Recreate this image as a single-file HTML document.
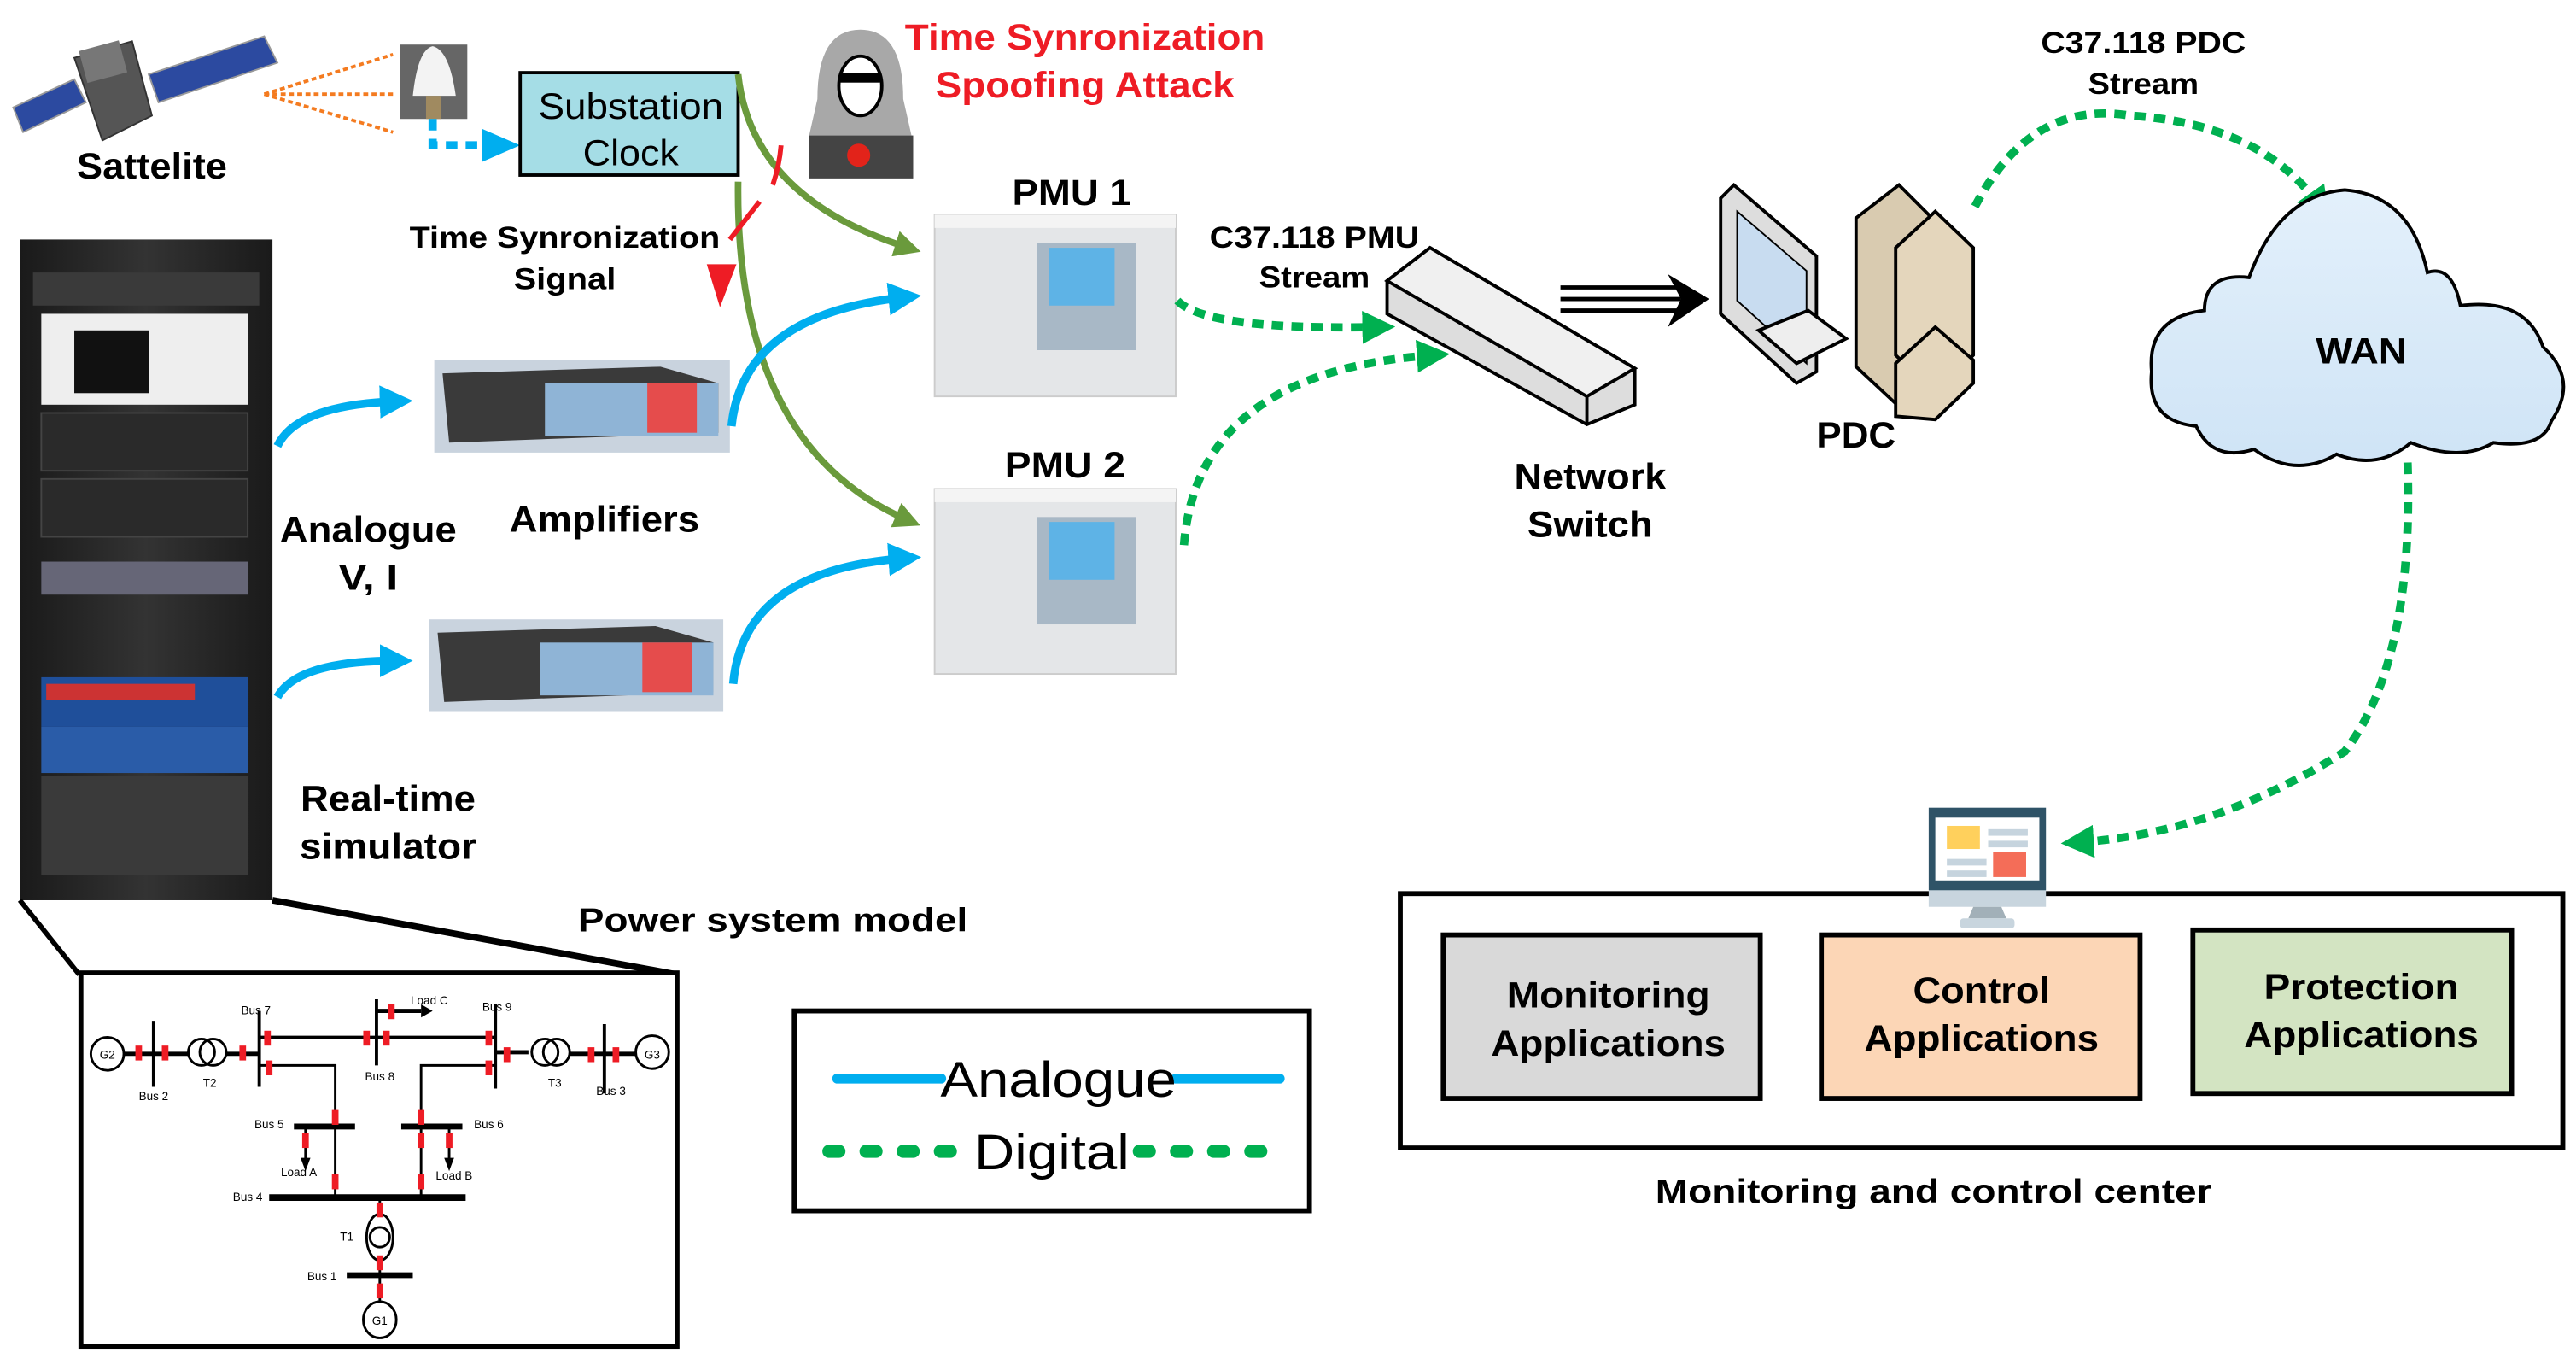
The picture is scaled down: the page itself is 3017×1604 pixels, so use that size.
<!DOCTYPE html>
<html><head><meta charset="utf-8"><style>
html,body{margin:0;padding:0;background:#fff;}
svg{display:block}
text{font-family:"Liberation Sans",Arial,sans-serif;}
.b{font-weight:bold;fill:#000}
</style></head><body>
<svg width="3017" height="1604" viewBox="0 0 1560 829.4" preserveAspectRatio="none" xmlns="http://www.w3.org/2000/svg">
<defs>
<marker id="ab" markerWidth="4" markerHeight="4" refX="2" refY="2" orient="auto" markerUnits="strokeWidth"><path d="M0,0 L4,2 L0,4 Z" fill="#00aeef"/></marker>
<marker id="ag" markerWidth="4" markerHeight="4" refX="2" refY="2" orient="auto" markerUnits="strokeWidth"><path d="M0,0 L4,2 L0,4 Z" fill="#00b050"/></marker>
<marker id="agr" markerWidth="4" markerHeight="4" refX="2" refY="2" orient="auto" markerUnits="strokeWidth"><path d="M0,0 L4,2 L0,4 Z" fill="#6a9a3c"/></marker>
<linearGradient id="cl" x1="0" y1="0" x2="0" y2="1"><stop offset="0" stop-color="#e3f0fb"/><stop offset="1" stop-color="#cfe4f6"/></linearGradient>
<linearGradient id="rk" x1="0" y1="0" x2="1" y2="0"><stop offset="0" stop-color="#1a1a1a"/><stop offset=".5" stop-color="#333"/><stop offset="1" stop-color="#1a1a1a"/></linearGradient>
</defs>

<!-- Satellite -->
<g>
<polygon points="8,65 45,48 52,62 14,80" fill="#2c4aa0" stroke="#999" stroke-width="1"/>
<polygon points="90,45 160,22 168,38 96,62" fill="#2c4aa0" stroke="#999" stroke-width="1"/>
<polygon points="45,35 80,25 92,70 62,85" fill="#555" stroke="#333"/>
<rect x="50" y="28" width="25" height="20" fill="#777" transform="rotate(-15 60 38)"/>
</g>
<text x="92" y="108" class="b" font-size="22" text-anchor="middle" textLength="91" lengthAdjust="spacingAndGlyphs">Sattelite</text>
<g stroke="#f47b20" stroke-width="2" stroke-dasharray="3,2" fill="none">
<line x1="160" y1="57" x2="238" y2="33"/><line x1="160" y1="57" x2="238" y2="57"/><line x1="160" y1="57" x2="238" y2="80"/>
</g>
<rect x="242" y="27" width="41" height="45" fill="#666"/>
<path d="M250,58 Q253,30 262,28 Q272,30 276,58 Z" fill="#f3f3f3"/>
<rect x="258" y="58" width="9" height="14" fill="#a08a60"/>
<path d="M262,72 L262,88 L295,88" stroke="#00aeef" stroke-width="5" stroke-dasharray="7,5" fill="none"/>
<polygon points="292,78 315,88 292,98" fill="#00aeef"/>

<rect x="315" y="44" width="132" height="62" fill="#a5dde6" stroke="#000" stroke-width="2"/>
<text x="382" y="72" font-size="22" text-anchor="middle" textLength="112" lengthAdjust="spacingAndGlyphs">Substation</text>
<text x="382" y="100" font-size="22" text-anchor="middle" textLength="58" lengthAdjust="spacingAndGlyphs">Clock</text>

<!-- hacker -->
<path d="M495,60 Q495,18 521,18 Q547,18 547,60 L552,82 L490,82 Z" fill="#a8a8a8"/>
<ellipse cx="521" cy="52" rx="13" ry="18" fill="#fff" stroke="#000" stroke-width="2"/>
<rect x="509" y="44" width="24" height="6" fill="#000"/>
<rect x="490" y="82" width="63" height="26" fill="#444"/>
<circle cx="520" cy="94" r="7" fill="#e2231a"/>
<text x="657" y="30" font-size="22" font-weight="bold" fill="#ee1c25" text-anchor="middle" textLength="218" lengthAdjust="spacingAndGlyphs">Time Synronization</text>
<text x="657" y="59" font-size="22" font-weight="bold" fill="#ee1c25" text-anchor="middle" textLength="181" lengthAdjust="spacingAndGlyphs">Spoofing Attack</text>

<path d="M447,45 Q455,120 550,150" stroke="#6a9a3c" stroke-width="4" fill="none" marker-end="url(#agr)"/>
<path d="M447,110 Q445,270 550,315" stroke="#6a9a3c" stroke-width="4" fill="none" marker-end="url(#agr)"/>
<path d="M473,88 Q472,100 468,112" stroke="#ee1c25" stroke-width="3" fill="none"/>
<line x1="442" y1="145" x2="460" y2="122" stroke="#ee1c25" stroke-width="3"/>
<polygon points="428,160 446,160 436,186" fill="#ee1c25"/>
<text x="342" y="150" class="b" font-size="18" text-anchor="middle" textLength="188" lengthAdjust="spacingAndGlyphs">Time Synronization</text>
<text x="342" y="175" class="b" font-size="18" text-anchor="middle" textLength="62" lengthAdjust="spacingAndGlyphs">Signal</text>

<!-- Rack -->
<rect x="12" y="145" width="153" height="400" fill="url(#rk)"/>
<rect x="20" y="165" width="137" height="20" fill="#3a3a3a"/>
<rect x="25" y="190" width="125" height="55" fill="#eee"/>
<rect x="45" y="200" width="45" height="38" fill="#111"/>
<rect x="25" y="250" width="125" height="35" fill="#2a2a2a" stroke="#444"/>
<rect x="25" y="290" width="125" height="35" fill="#2a2a2a" stroke="#444"/>
<rect x="25" y="340" width="125" height="20" fill="#667"/>
<rect x="25" y="410" width="125" height="30" fill="#1f4f9a"/>
<rect x="28" y="414" width="90" height="10" fill="#c33"/>
<rect x="25" y="440" width="125" height="28" fill="#2a5ca8"/>
<rect x="25" y="470" width="125" height="60" fill="#3a3a3a"/>

<!-- Amplifiers -->
<rect x="263" y="218" width="179" height="56" fill="#c9d3de"/>
<polygon points="268,226 400,222 435,232 435,262 272,268" fill="#3a3a3a"/>
<rect x="330" y="232" width="105" height="32" fill="#8fb4d6"/>
<rect x="392" y="232" width="30" height="30" fill="#e54c4c"/>
<rect x="260" y="375" width="178" height="56" fill="#c9d3de"/>
<polygon points="265,383 397,379 432,389 432,419 269,425" fill="#3a3a3a"/>
<rect x="327" y="389" width="105" height="32" fill="#8fb4d6"/>
<rect x="389" y="389" width="30" height="30" fill="#e54c4c"/>

<g stroke="#00aeef" stroke-width="5" fill="none">
<path d="M168,270 Q180,245 240,243" marker-end="url(#ab)"/>
<path d="M168,422 Q180,400 240,400" marker-end="url(#ab)"/>
<path d="M443,258 Q450,190 548,180" marker-end="url(#ab)"/>
<path d="M444,414 Q450,345 548,338" marker-end="url(#ab)"/>
</g>
<text x="223" y="328" class="b" font-size="22" text-anchor="middle" textLength="107" lengthAdjust="spacingAndGlyphs">Analogue</text>
<text x="223" y="357" class="b" font-size="22" text-anchor="middle" textLength="36" lengthAdjust="spacingAndGlyphs">V, I</text>
<text x="366" y="322" class="b" font-size="22" text-anchor="middle" textLength="115" lengthAdjust="spacingAndGlyphs">Amplifiers</text>
<text x="235" y="491" class="b" font-size="22" text-anchor="middle" textLength="106" lengthAdjust="spacingAndGlyphs">Real-time</text>
<text x="235" y="520" class="b" font-size="22" text-anchor="middle" textLength="107" lengthAdjust="spacingAndGlyphs">simulator</text>

<!-- PMUs -->
<text x="649" y="124" class="b" font-size="22" text-anchor="middle" textLength="72" lengthAdjust="spacingAndGlyphs">PMU 1</text>
<rect x="566" y="130" width="146" height="110" fill="#e4e6e8" stroke="#ccc"/>
<rect x="566" y="130" width="146" height="8" fill="#f4f4f4"/>
<rect x="628" y="147" width="60" height="65" fill="#a8b8c6"/>
<rect x="635" y="150" width="40" height="35" fill="#5eb3e6"/>
<text x="645" y="289" class="b" font-size="22" text-anchor="middle" textLength="73" lengthAdjust="spacingAndGlyphs">PMU 2</text>
<rect x="566" y="296" width="146" height="112" fill="#e4e6e8" stroke="#ccc"/>
<rect x="566" y="296" width="146" height="8" fill="#f4f4f4"/>
<rect x="628" y="313" width="60" height="65" fill="#a8b8c6"/>
<rect x="635" y="316" width="40" height="35" fill="#5eb3e6"/>

<text x="796" y="150" class="b" font-size="18" text-anchor="middle" textLength="127" lengthAdjust="spacingAndGlyphs">C37.118 PMU</text>
<text x="796" y="174" class="b" font-size="18" text-anchor="middle" textLength="67" lengthAdjust="spacingAndGlyphs">Stream</text>
<g stroke="#00b050" stroke-width="5" stroke-dasharray="7,5" fill="none">
<path d="M713,182 Q730,200 835,198" marker-end="url(#ag)"/>
<path d="M717,330 Q725,225 868,215" marker-end="url(#ag)"/>
</g>

<!-- switch -->
<polygon points="840,170 866,150 990,223 990,245 961,257 840,190" fill="#ddd" stroke="#000" stroke-width="2"/>
<polygon points="840,170 866,150 990,223 961,240" fill="#f0f0f0" stroke="#000" stroke-width="2"/>
<line x1="961" y1="240" x2="961" y2="257" stroke="#000" stroke-width="2"/>
<text x="963" y="296" class="b" font-size="22" text-anchor="middle" textLength="92" lengthAdjust="spacingAndGlyphs">Network</text>
<text x="963" y="325" class="b" font-size="22" text-anchor="middle" textLength="76" lengthAdjust="spacingAndGlyphs">Switch</text>
<g stroke="#000" stroke-width="2.5"><line x1="945" y1="174" x2="1018" y2="174"/><line x1="945" y1="181" x2="1018" y2="181"/><line x1="945" y1="188" x2="1018" y2="188"/></g>
<polygon points="1010,166 1035,181 1010,198 1018,181" fill="#000"/>

<!-- PDC -->
<polygon points="1042,120 1050,112 1100,155 1100,225 1088,232 1042,190" fill="#ddd" stroke="#000" stroke-width="2"/>
<polygon points="1052,128 1094,164 1094,220 1052,182" fill="#c8dcf0" stroke="#000"/>
<polygon points="1065,200 1088,220 1118,205 1095,188" fill="#eee" stroke="#000" stroke-width="2"/>
<polygon points="1124,132 1150,112 1172,134 1172,232 1152,248 1124,222" fill="#d9cbb0" stroke="#000" stroke-width="2"/>
<polygon points="1148,150 1172,128 1195,150 1195,215 1172,238 1148,215" fill="#e4d6bc" stroke="#000" stroke-width="2"/>
<polygon points="1148,220 1172,198 1195,218 1195,232 1172,254 1148,252" fill="#e4d6bc" stroke="#000" stroke-width="2"/>
<text x="1124" y="271" class="b" font-size="22" text-anchor="middle" textLength="48" lengthAdjust="spacingAndGlyphs">PDC</text>

<text x="1298" y="32" class="b" font-size="18" text-anchor="middle" textLength="124" lengthAdjust="spacingAndGlyphs">C37.118 PDC</text>
<text x="1298" y="57" class="b" font-size="18" text-anchor="middle" textLength="67" lengthAdjust="spacingAndGlyphs">Stream</text>
<path d="M1196,125 Q1230,60 1290,70 Q1370,75 1405,125" stroke="#00b050" stroke-width="5" stroke-dasharray="7,5" fill="none" marker-end="url(#ag)"/>

<path d="M1330,258 Q1300,255 1303,225 Q1300,192 1335,188 Q1335,165 1362,168 Q1380,118 1420,115 Q1460,118 1470,165 Q1485,160 1490,185 Q1530,180 1540,210 Q1562,230 1545,255 Q1540,272 1510,268 Q1490,280 1460,268 Q1440,285 1415,275 Q1390,290 1365,272 Q1340,280 1330,258 Z" fill="url(#cl)" stroke="#000" stroke-width="2"/>
<text x="1430" y="220" class="b" font-size="22" text-anchor="middle" textLength="55" lengthAdjust="spacingAndGlyphs">WAN</text>
<path d="M1458,280 Q1462,400 1420,455 Q1340,505 1258,510" stroke="#00b050" stroke-width="5" stroke-dasharray="7,5" fill="none" marker-end="url(#ag)"/>

<!-- monitoring center -->
<rect x="848" y="541" width="704" height="154" fill="#fff" stroke="#000" stroke-width="3"/>
<rect x="1168" y="489" width="71" height="50" fill="#2f5367"/>
<rect x="1172" y="495" width="63" height="38" fill="#fff"/>
<rect x="1179" y="500" width="20" height="14" fill="#ffd05c"/>
<rect x="1204" y="502" width="24" height="4" fill="#c6d4de"/>
<rect x="1204" y="509" width="24" height="4" fill="#c6d4de"/>
<rect x="1179" y="520" width="24" height="4" fill="#c6d4de"/>
<rect x="1179" y="527" width="24" height="4" fill="#c6d4de"/>
<rect x="1207" y="516" width="20" height="15" fill="#f46d58"/>
<rect x="1168" y="539" width="71" height="10" fill="#c8d5de"/>
<polygon points="1195,549 1212,549 1215,556 1192,556" fill="#a2b0b8"/>
<rect x="1187" y="556" width="33" height="6" rx="2" fill="#c8d5de"/>
<rect x="874" y="566" width="192" height="99" fill="#d9d9d9" stroke="#000" stroke-width="3"/>
<rect x="1103" y="566" width="193" height="99" fill="#fcd6b6" stroke="#000" stroke-width="3"/>
<rect x="1328" y="563" width="193" height="99" fill="#d3e4c2" stroke="#000" stroke-width="3"/>
<text x="974" y="610" class="b" font-size="22" text-anchor="middle" textLength="123" lengthAdjust="spacingAndGlyphs">Monitoring</text>
<text x="974" y="639" class="b" font-size="22" text-anchor="middle" textLength="142" lengthAdjust="spacingAndGlyphs">Applications</text>
<text x="1200" y="607" class="b" font-size="22" text-anchor="middle" textLength="83" lengthAdjust="spacingAndGlyphs">Control</text>
<text x="1200" y="636" class="b" font-size="22" text-anchor="middle" textLength="142" lengthAdjust="spacingAndGlyphs">Applications</text>
<text x="1430" y="605" class="b" font-size="22" text-anchor="middle" textLength="118" lengthAdjust="spacingAndGlyphs">Protection</text>
<text x="1430" y="634" class="b" font-size="22" text-anchor="middle" textLength="142" lengthAdjust="spacingAndGlyphs">Applications</text>
<text x="1171" y="728" class="b" font-size="20" text-anchor="middle" textLength="337" lengthAdjust="spacingAndGlyphs">Monitoring and control center</text>

<!-- power system model -->
<text x="468" y="564" class="b" font-size="20" text-anchor="middle" textLength="236" lengthAdjust="spacingAndGlyphs">Power system model</text>
<line x1="12" y1="545" x2="48" y2="590" stroke="#000" stroke-width="3"/>
<line x1="165" y1="545" x2="410" y2="590" stroke="#000" stroke-width="4"/>
<rect x="49" y="589" width="361" height="226" fill="#fff" stroke="#000" stroke-width="3"/>
<g stroke="#000" fill="none" stroke-width="1.5">
<circle cx="65" cy="638" r="10" fill="#fff"/>
<line x1="75" y1="638" x2="115" y2="638" stroke-width="2.5"/>
<line x1="93" y1="618" x2="93" y2="658" stroke-width="2"/>
<circle cx="122" cy="637" r="8"/><circle cx="129" cy="637" r="8"/>
<line x1="137" y1="638" x2="157" y2="638" stroke-width="2.5"/>
<line x1="157" y1="612" x2="157" y2="658" stroke-width="2"/>
<line x1="157" y1="628" x2="300" y2="628" stroke-width="2"/>
<line x1="228" y1="605" x2="228" y2="645" stroke-width="2"/>
<line x1="228" y1="612" x2="255" y2="612" stroke-width="2.5"/>
<line x1="300" y1="608" x2="300" y2="659" stroke-width="2"/>
<line x1="300" y1="637" x2="320" y2="637" stroke-width="2.5"/>
<circle cx="330" cy="637" r="8"/><circle cx="337" cy="637" r="8"/>
<line x1="345" y1="638" x2="385" y2="638" stroke-width="2.5"/>
<line x1="366" y1="620" x2="366" y2="662" stroke-width="2"/>
<circle cx="395" cy="637" r="10" fill="#fff"/>
<polyline points="157,645 203,645 203,724"/>
<polyline points="300,645 255,645 255,724"/>
<line x1="178" y1="682" x2="215" y2="682" stroke-width="3.5"/>
<line x1="243" y1="682" x2="280" y2="682" stroke-width="3.5"/>
<line x1="185" y1="682" x2="185" y2="702"/>
<line x1="272" y1="682" x2="272" y2="702"/>
<line x1="163" y1="725" x2="282" y2="725" stroke-width="4"/>
<line x1="230" y1="725" x2="230" y2="788"/>
<ellipse cx="230" cy="749" rx="8" ry="14" fill="#fff"/>
<circle cx="230" cy="749" r="6"/>
<line x1="210" y1="772" x2="250" y2="772" stroke-width="3.5"/>
<ellipse cx="230" cy="799" rx="10" ry="11" fill="#fff"/>
</g>
<polygon points="255,608 262,612 255,616" fill="#000"/>
<polygon points="182,701 185,709 188,701" fill="#000"/>
<polygon points="269,701 272,709 275,701" fill="#000"/>
<g fill="#ee1c25">
<rect x="82" y="633" width="4" height="9"/><rect x="98" y="633" width="4" height="9"/><rect x="145" y="633" width="4" height="9"/>
<rect x="160" y="624" width="4" height="9"/><rect x="220" y="624" width="4" height="9"/><rect x="232" y="624" width="4" height="9"/><rect x="294" y="624" width="4" height="9"/>
<rect x="161" y="642" width="4" height="9"/><rect x="294" y="642" width="4" height="9"/><rect x="305" y="634" width="4" height="9"/>
<rect x="356" y="634" width="4" height="9"/><rect x="371" y="634" width="4" height="9"/><rect x="235" y="608" width="4" height="9"/>
<rect x="201" y="672" width="4" height="9"/><rect x="253" y="672" width="4" height="9"/><rect x="183" y="686" width="4" height="9"/><rect x="253" y="686" width="4" height="9"/><rect x="270" y="686" width="4" height="9"/>
<rect x="201" y="711" width="4" height="9"/><rect x="253" y="711" width="4" height="9"/>
<rect x="228" y="728" width="4" height="9"/><rect x="228" y="760" width="4" height="9"/><rect x="228" y="777" width="4" height="9"/>
</g>
<g font-size="7" fill="#000" text-anchor="middle">
<text x="65" y="641">G2</text><text x="395" y="641">G3</text><text x="230" y="802">G1</text>
<text x="155" y="614">Bus 7</text><text x="260" y="608">Load C</text><text x="301" y="612">Bus 9</text>
<text x="93" y="666">Bus 2</text><text x="127" y="658">T2</text><text x="230" y="654">Bus 8</text><text x="336" y="658">T3</text><text x="370" y="663">Bus 3</text>
<text x="163" y="683">Bus 5</text><text x="296" y="683">Bus 6</text><text x="181" y="712">Load A</text><text x="275" y="714">Load B</text>
<text x="150" y="727">Bus 4</text><text x="210" y="751">T1</text><text x="195" y="775">Bus 1</text>
</g>

<!-- legend -->
<rect x="481" y="612" width="312" height="121" fill="#fff" stroke="#000" stroke-width="3"/>
<line x1="507" y1="653" x2="570" y2="653" stroke="#00aeef" stroke-width="6" stroke-linecap="round"/>
<line x1="712" y1="653" x2="775" y2="653" stroke="#00aeef" stroke-width="6" stroke-linecap="round"/>
<text x="641" y="664" font-size="30" text-anchor="middle" textLength="143" lengthAdjust="spacingAndGlyphs">Analogue</text>
<line x1="502" y1="697" x2="580" y2="697" stroke="#00b050" stroke-width="8" stroke-dasharray="6,16.5" stroke-linecap="round"/>
<line x1="690" y1="697" x2="765" y2="697" stroke="#00b050" stroke-width="8" stroke-dasharray="6,16.5" stroke-linecap="round"/>
<text x="637" y="708" font-size="30" text-anchor="middle" textLength="94" lengthAdjust="spacingAndGlyphs">Digital</text>
</svg>
</body></html>
